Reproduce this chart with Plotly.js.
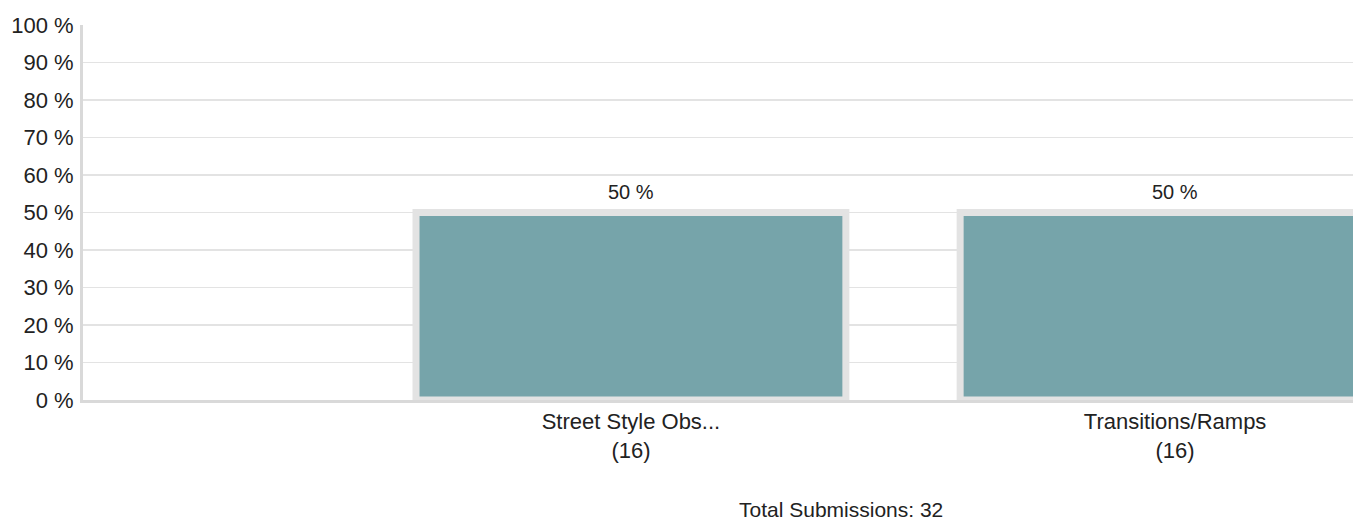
<!DOCTYPE html>
<html>
<head>
<meta charset="utf-8">
<script src="https://cdn.plot.ly/plotly-3.0.1.min.js"></script>
<style>html,body{margin:0;padding:0;background:#fff;}#chart{width:1353px;height:523px;}</style>
</head>
<body>
<div id="chart"></div>
<script>
var categories = ["Street Style Obs...", "Transitions/Ramps"];
var counts = [16, 16];
var percents = [50, 50];
var totalSubmissions = 32;
var yTicks = [0, 10, 20, 30, 40, 50, 60, 70, 80, 90, 100];

var labels = categories.map(function (c, i) { return c + "<br>(" + counts[i] + ")"; });
var FONT = "Liberation Sans, Arial, sans-serif";

var trace = {
  type: "bar",
  x: labels,
  y: percents,
  width: 0.79,
  marker: { color: "#76a4aa", line: { color: "#e3e3e3", width: 7 } },
  hoverinfo: "skip"
};

var annotations = labels.map(function (l, i) {
  return {
    x: l, y: percents[i], xref: "x", yref: "y",
    text: percents[i] + " %", showarrow: false,
    yanchor: "bottom", yshift: 8,
    font: { family: FONT, size: 20, color: "#222" }
  };
});
annotations.push({
  xref: "paper", yref: "paper", x: 0.597, y: -0.293,
  xanchor: "center", yanchor: "middle", showarrow: false,
  text: "Total Submissions: " + totalSubmissions,
  font: { family: FONT, size: 21, color: "#222" }
});

var layout = {
  width: 1353, height: 523,
  margin: { l: 83, r: 0, t: 25, b: 123 },
  paper_bgcolor: "#fff", plot_bgcolor: "#fff",
  showlegend: false,
  xaxis: {
    type: "category",
    range: [-1.007, 1.327],
    showgrid: false,
    showline: true, linecolor: "#d9d9d9", linewidth: 3,
    ticks: "", zeroline: false,
    tickfont: { family: FONT, size: 22, color: "#222" }
  },
  yaxis: {
    range: [0, 100],
    tickvals: yTicks,
    ticktext: yTicks.map(function (v) { return v + " %"; }),
    showgrid: true, gridcolor: "#e3e3e3", gridwidth: 1.5,
    showline: true, linecolor: "#d9d9d9", linewidth: 3,
    zeroline: false, ticks: "",
    ticklabelstandoff: 2,
    tickfont: { family: FONT, size: 22, color: "#222" }
  },
  annotations: annotations
};

Plotly.newPlot("chart", [trace], layout, { displayModeBar: false, staticPlot: true });
</script>
</body>
</html>
